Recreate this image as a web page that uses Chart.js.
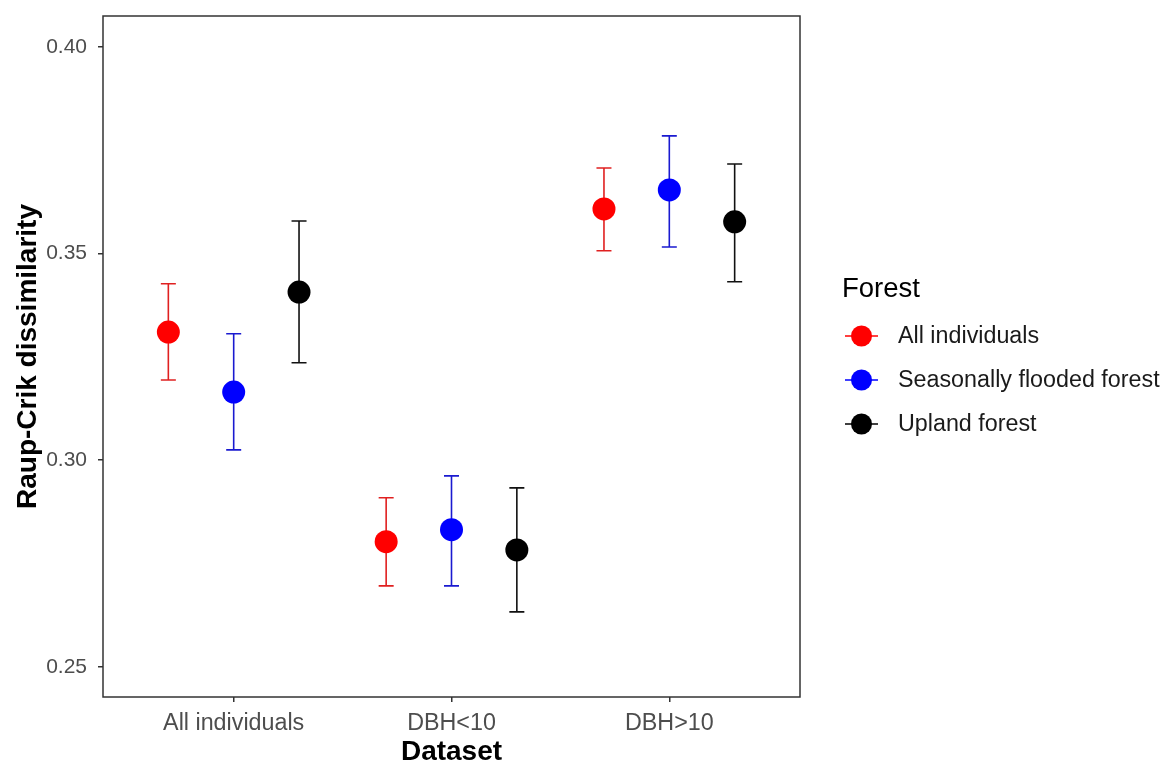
<!DOCTYPE html>
<html lang="en">
<head>
  <meta charset="UTF-8">
  <title>Raup-Crik dissimilarity</title>
  <script src="https://cdn.jsdelivr.net/npm/chart.js"></script>
  <style>
    html, body {
      margin: 0;
      padding: 0;
      background: #fff;
    }
    #wrap {
      width: 1165px;
      height: 764px;
    }
  </style>
</head>
<body>
  <div id="wrap">
    <canvas id="rcChart" width="1165" height="764"></canvas>
  </div>

  <script>
    // data
    const categories = ["All individuals", "DBH<10", "DBH>10"];
    const forests = ["All individuals", "Seasonally flooded forest", "Upland forest"];
    const colors = ["#ff0000", "#0000ff", "#000000"];
    const barColors = ["#e02020", "#1a1ad0", "#111111"];

    const allMean = [0.3310, 0.2803, 0.3608];
    const allLow = [0.3194, 0.2696, 0.3507];
    const allHigh = [0.3427, 0.2909, 0.3707];

    const floodMean = [0.3165, 0.2832, 0.3654];
    const floodLow = [0.3025, 0.2696, 0.3516];
    const floodHigh = [0.3306, 0.2962, 0.3785];

    const uplandMean = [0.3407, 0.2783, 0.3577];
    const uplandLow = [0.3236, 0.2633, 0.3432];
    const uplandHigh = [0.3579, 0.2933, 0.3717];

    const yTicks = [0.25, 0.30, 0.35, 0.40];
    const dodge = [-0.3, 0, 0.3];

    const means = [allMean, floodMean, uplandMean];
    const lows = [allLow, floodLow, uplandLow];
    const highs = [allHigh, floodHigh, uplandHigh];

    const FONT = "'Liberation Sans', Arial, sans-serif";

    const datasets = forests.map((name, i) => ({
      label: name,
      data: categories.map((c, j) => ({ x: j + 1 + dodge[i], y: means[i][j], lo: lows[i][j], hi: highs[i][j] })),
      backgroundColor: colors[i],
      borderColor: colors[i],
      pointRadius: 11.5,
      pointHoverRadius: 11.5,
      borderWidth: 0
    }));

    // error bars under the points
    const errorBars = {
      id: "errorBars",
      beforeDatasetsDraw(chart) {
        const ctx = chart.ctx;
        const xs = chart.scales.x, ys = chart.scales.y;
        ctx.save();
        chart.data.datasets.forEach((ds, i) => {
          ctx.strokeStyle = barColors[i];
          ctx.lineWidth = 1.6;
          ds.data.forEach(p => {
            const px = xs.getPixelForValue(p.x);
            const top = ys.getPixelForValue(p.hi);
            const bot = ys.getPixelForValue(p.lo);
            ctx.beginPath();
            ctx.moveTo(px, top); ctx.lineTo(px, bot);
            ctx.moveTo(px - 7.5, top); ctx.lineTo(px + 7.5, top);
            ctx.moveTo(px - 7.5, bot); ctx.lineTo(px + 7.5, bot);
            ctx.stroke();
          });
        });
        ctx.restore();
      }
    };

    // panel border and legend
    const frame = {
      id: "frame",
      afterDraw(chart) {
        const ctx = chart.ctx;
        const a = chart.chartArea;
        ctx.save();
        ctx.strokeStyle = "#333333";
        ctx.lineWidth = 1.5;
        ctx.strokeRect(a.left, a.top, a.right - a.left, a.bottom - a.top);

        ctx.fillStyle = "#000";
        ctx.font = "27.5px " + FONT;
        ctx.textBaseline = "middle";
        ctx.textAlign = "left";
        ctx.fillText("Forest", 842, 289);

        ctx.font = "23.3px " + FONT;
        forests.forEach((name, i) => {
          const y = 336 + i * 44;
          ctx.strokeStyle = colors[i];
          ctx.lineWidth = 1.6;
          ctx.beginPath();
          ctx.moveTo(845, y); ctx.lineTo(878, y);
          ctx.stroke();
          ctx.fillStyle = colors[i];
          ctx.beginPath();
          ctx.arc(861.5, y, 10.5, 0, Math.PI * 2);
          ctx.fill();
          ctx.fillStyle = "#1a1a1a";
          ctx.fillText(name, 898, y + 1);
        });
        ctx.restore();
      }
    };

    new Chart(document.getElementById("rcChart").getContext("2d"), {
      type: "scatter",
      data: { datasets: datasets },
      options: {
        responsive: false,
        animation: false,
        layout: { padding: { left: 0, right: 365, top: 16, bottom: 0 } },
        plugins: {
          legend: { display: false },
          tooltip: { enabled: false }
        },
        scales: {
          x: {
            type: "linear",
            min: 0.4,
            max: 3.6,
            afterBuildTicks(s) { s.ticks = categories.map((c, j) => ({ value: j + 1 })); },
            afterFit(s) { s.height = 67; s.paddingLeft = 0; s.paddingRight = 0; },
            ticks: {
              callback: (v) => categories[Math.round(v) - 1],
              color: "#4d4d4d",
              font: { size: 23.3, family: FONT },
              padding: 8,
              maxRotation: 0
            },
            grid: { drawOnChartArea: false, drawTicks: true, tickLength: 5, color: "#333333", lineWidth: 1.5 },
            border: { display: false },
            title: {
              display: true,
              text: "Dataset",
              color: "#000",
              font: { size: 28, weight: "bold", family: FONT },
              padding: { top: 0, bottom: -5 }
            }
          },
          y: {
            min: 0.2427,
            max: 0.4075,
            afterBuildTicks(s) { s.ticks = yTicks.map(v => ({ value: v })); },
            afterFit(s) { s.width = 103; s.paddingTop = 0; s.paddingBottom = 0; },
            ticks: {
              callback: (v) => v.toFixed(2),
              color: "#4d4d4d",
              font: { size: 21, family: FONT },
              padding: 11
            },
            grid: { drawOnChartArea: false, drawTicks: true, tickLength: 5, color: "#333333", lineWidth: 1.5 },
            border: { display: false },
            title: {
              display: true,
              text: "Raup-Crik dissimilarity",
              color: "#000",
              font: { size: 28, weight: "bold", family: FONT },
              padding: { top: 11, bottom: 0 }
            }
          }
        }
      },
      plugins: [errorBars, frame]
    });
  </script>
</body>
</html>
